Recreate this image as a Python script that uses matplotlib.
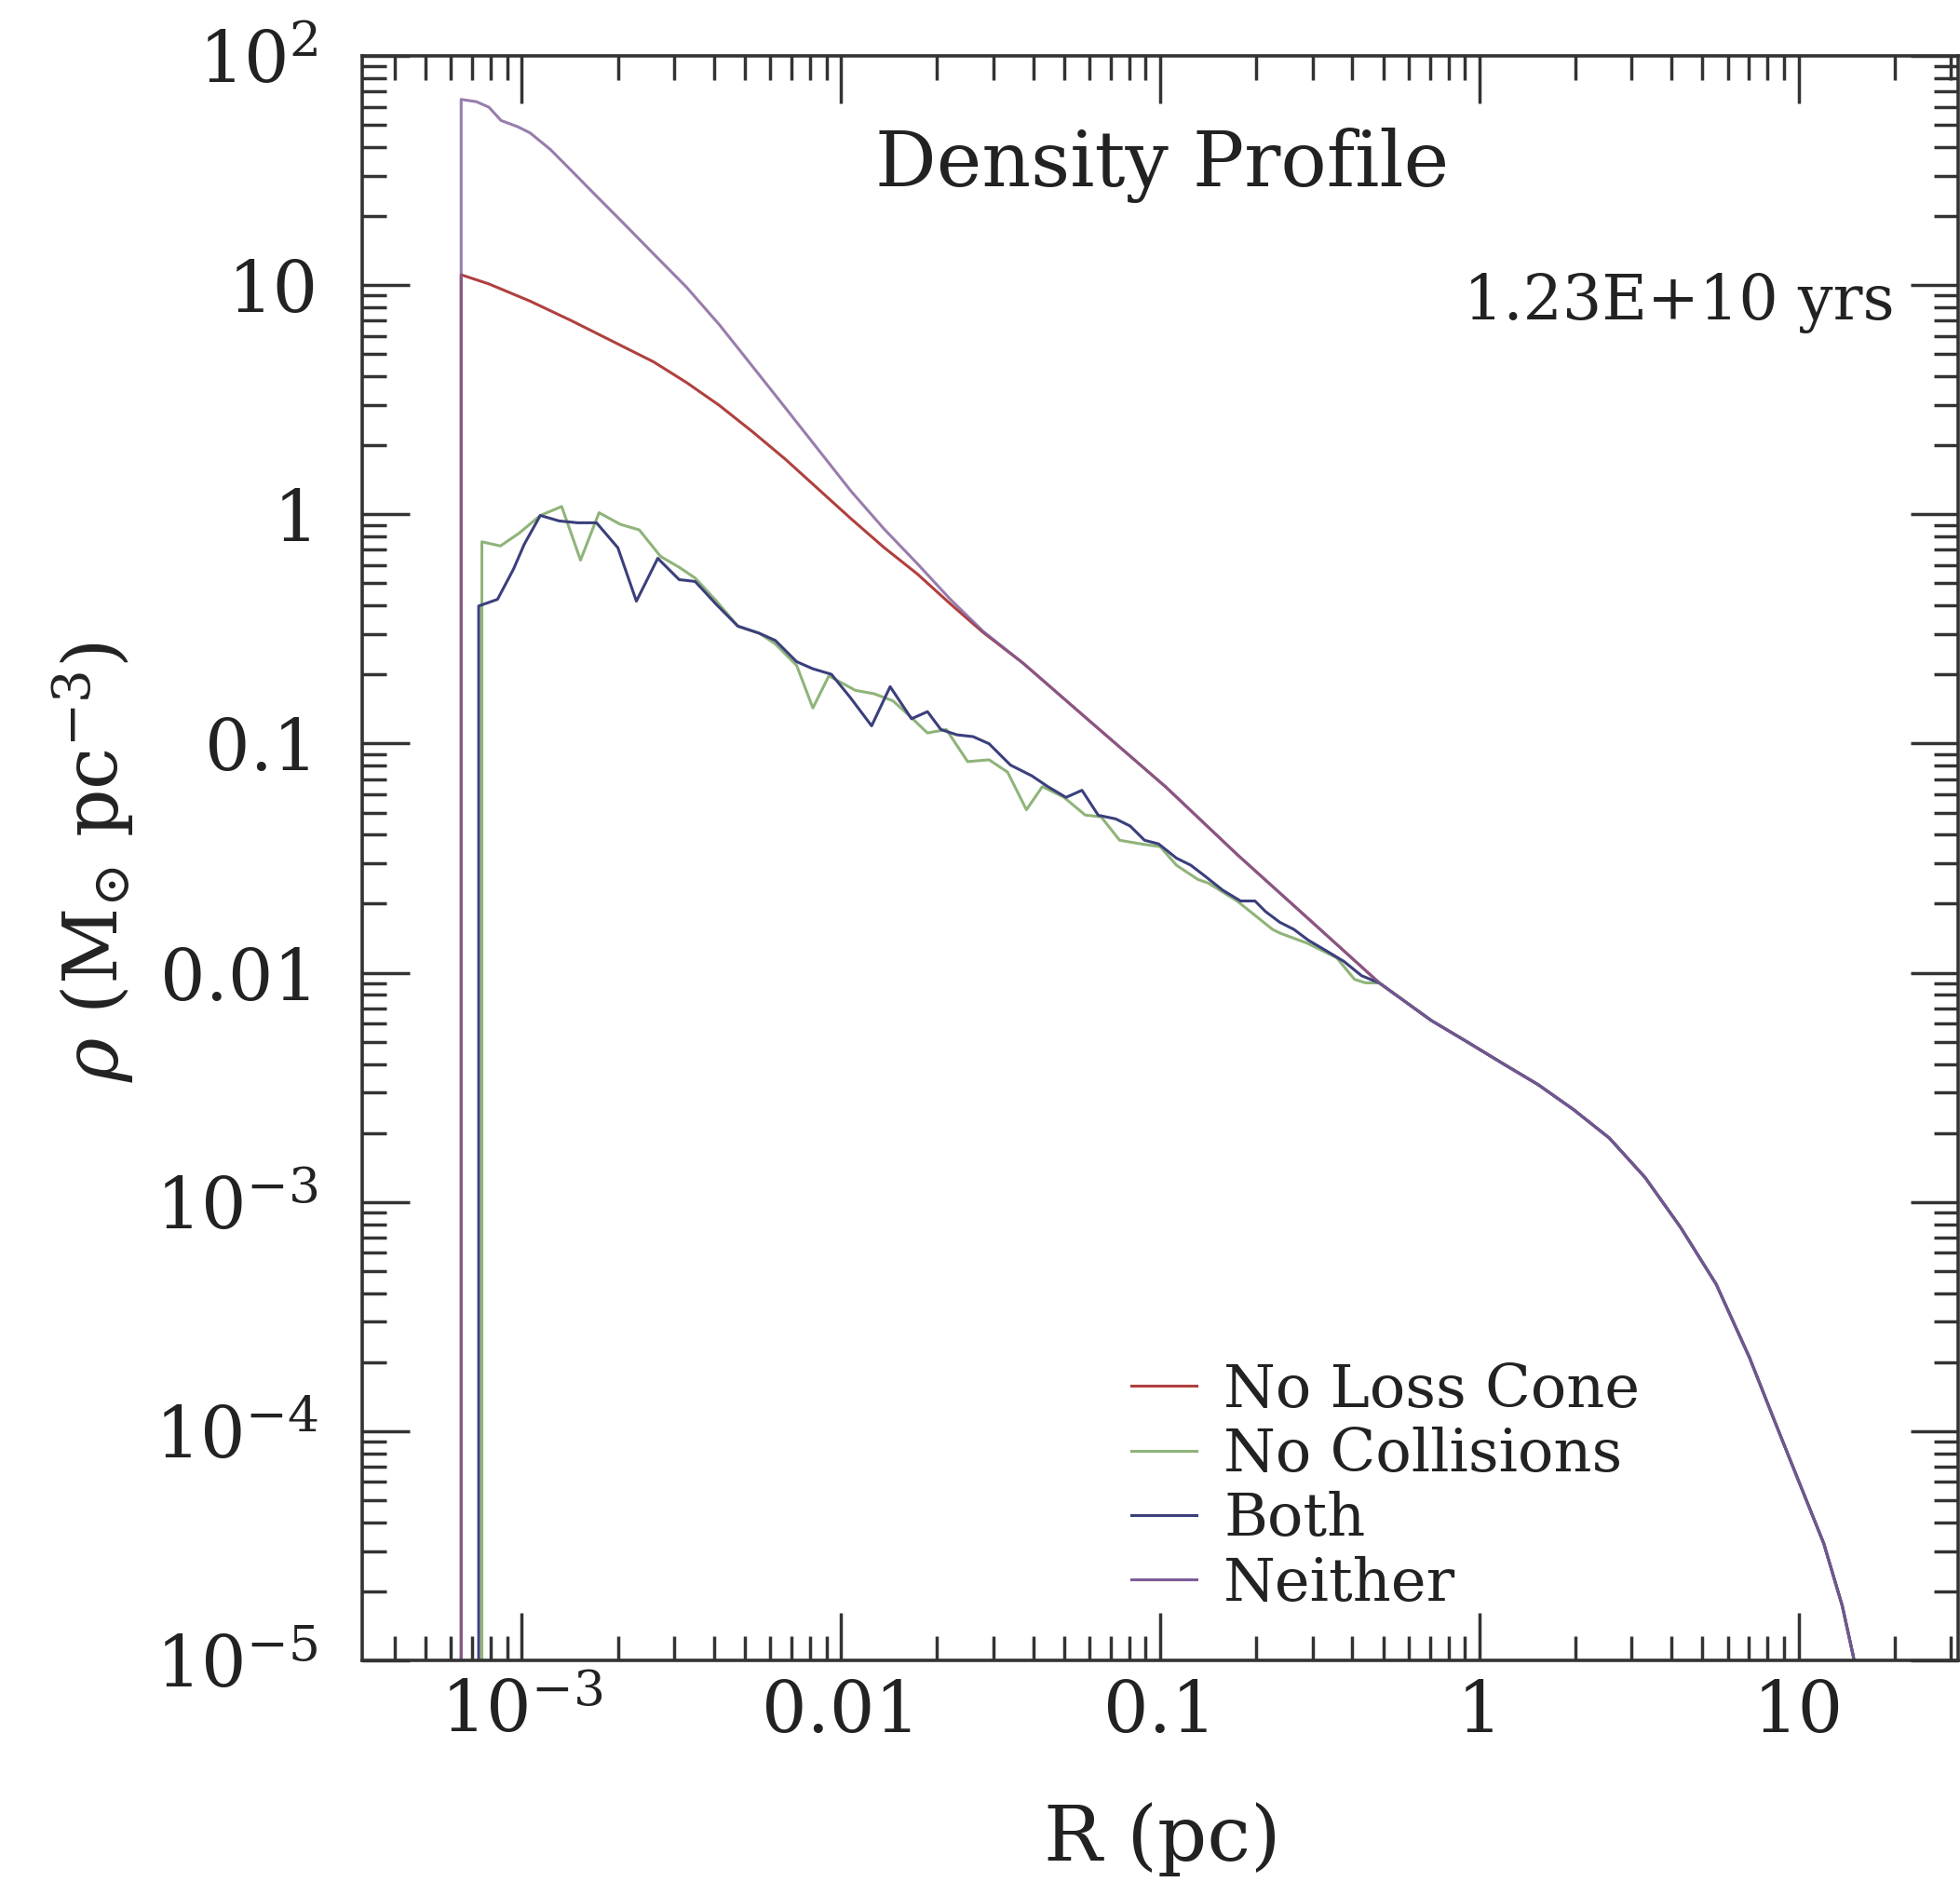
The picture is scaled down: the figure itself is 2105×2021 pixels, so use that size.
import numpy as np
import matplotlib
matplotlib.use("Agg")
import matplotlib.pyplot as plt
from matplotlib.ticker import FixedLocator, LogLocator, NullFormatter


# Settings
plt.rcParams["font.family"] = ["DejaVu Serif"]
plt.rcParams["mathtext.fontset"] = "dejavuserif"

# Data as log10(R / pc), log10(rho / Msun pc^-3)
# the first point of each curve sits below the axis to draw the vertical edge

# common outer part (all four runs agree there)
tail_logr = [-1.429, -1.206, -0.982, -0.759, -0.536, -0.313, -0.151, -0.039,
             0.072, 0.184, 0.295, 0.407, 0.519, 0.630, 0.742, 0.846, 0.923,
             1.001, 1.079, 1.137, 1.171, 1.200]
tail_logrho = [-0.65, -0.92, -1.19, -1.484, -1.764, -2.045, -2.208, -2.301,
               -2.395, -2.488, -2.597, -2.721, -2.893, -3.110, -3.359, -3.678,
               -3.949, -4.220, -4.490, -4.762, -4.978, -5.20]

neither_logr = [-3.19, -3.19, -3.142, -3.103, -3.065, -3.013, -2.974, -2.910,
                -2.845, -2.768, -2.690, -2.587, -2.484, -2.381, -2.277, -2.174,
                -2.071, -1.968, -1.865, -1.761, -1.658, -1.555]
neither_logrho = [-6.0, 1.81, 1.800, 1.776, 1.718, 1.691, 1.664, 1.591,
                  1.500, 1.391, 1.282, 1.136, 0.991, 0.827, 0.645, 0.464,
                  0.282, 0.100, -0.064, -0.215, -0.37, -0.51]

nolc_logr = [-3.19, -3.19, -3.103, -2.974, -2.845, -2.716, -2.587, -2.484,
             -2.381, -2.277, -2.174, -2.071, -1.968, -1.865, -1.761, -1.658,
             -1.555]
nolc_logrho = [-6.0, 1.045, 1.005, 0.93, 0.845, 0.755, 0.665, 0.575,
               0.475, 0.36, 0.24, 0.11, -0.02, -0.145, -0.26, -0.39,
               -0.515]

nocoll_logr = [-3.125, -3.125, -3.067, -3.009, -2.942, -2.875, -2.816, -2.758,
               -2.691, -2.632, -2.565, -2.507, -2.457, -2.390, -2.323, -2.256,
               -2.206, -2.139, -2.088, -2.038, -1.955, -1.896, -1.837, -1.787,
               -1.729, -1.670, -1.603, -1.536, -1.478, -1.419, -1.369, -1.302,
               -1.235, -1.185, -1.127, -1.060, -1.000, -0.949, -0.882, -0.849,
               -0.759, -0.648, -0.625, -0.536, -0.447, -0.391, -0.357]
nocoll_logrho = [-6.0, -0.12, -0.138, -0.083, -0.005, 0.034, -0.200, 0.007,
                 -0.044, -0.068, -0.184, -0.231, -0.278, -0.379, -0.488, -0.519,
                 -0.565, -0.659, -0.845, -0.705, -0.768, -0.783, -0.814, -0.877,
                 -0.954, -0.939, -1.079, -1.071, -1.125, -1.289, -1.188, -1.234,
                 -1.312, -1.320, -1.422, -1.438, -1.450, -1.531, -1.593, -1.609,
                 -1.687, -1.811, -1.827, -1.873, -1.935, -2.029, -2.044]

both_logr = [-3.135, -3.135, -3.076, -3.026, -2.992, -2.942, -2.883, -2.825,
             -2.766, -2.699, -2.641, -2.574, -2.507, -2.457, -2.390, -2.323,
             -2.256, -2.206, -2.139, -2.088, -2.030, -1.971, -1.904, -1.846,
             -1.779, -1.729, -1.687, -1.637, -1.586, -1.536, -1.469, -1.402,
             -1.352, -1.295, -1.245, -1.194, -1.139, -1.094, -1.049, -1.005,
             -0.949, -0.904, -0.860, -0.804, -0.748, -0.703, -0.670, -0.625,
             -0.581, -0.536, -0.480, -0.424, -0.369]
both_logrho = [-6.0, -0.40, -0.371, -0.239, -0.130, -0.005, -0.029, -0.037,
               -0.037, -0.146, -0.379, -0.192, -0.285, -0.293, -0.394, -0.488,
               -0.519, -0.550, -0.643, -0.674, -0.698, -0.799, -0.923, -0.752,
               -0.892, -0.861, -0.939, -0.962, -0.970, -1.001, -1.094, -1.141,
               -1.188, -1.235, -1.204, -1.313, -1.329, -1.360, -1.422, -1.438,
               -1.500, -1.531, -1.578, -1.640, -1.687, -1.687, -1.733, -1.780,
               -1.811, -1.858, -1.904, -1.951, -2.013]

# noisy runs join the smooth curve at about 0.5 pc
tail_join = 5

labels = ["No Loss Cone", "No Collisions", "Both", "Neither"]
colors = ["#b0403f", "#8fb47a", "#3b3f7c", "#7e5c98"]

ytick_vals = [1e-5, 1e-4, 1e-3, 1e-2, 1e-1, 1, 10, 100]
ytick_labels = [r"$10^{-5}$", r"$10^{-4}$", r"$10^{-3}$", "0.01", "0.1", "1", "10", r"$10^{2}$"]
xtick_vals = [1e-3, 1e-2, 1e-1, 1, 10]
xtick_labels = [r"$10^{-3}$", "0.01", "0.1", "1", "10"]


def curve(logr, logrho, start):
    lr = np.array(logr + tail_logr[start:])
    lp = np.array(logrho + tail_logrho[start:])
    return 10 ** lr, 10 ** lp


def main():
    fig = plt.figure(figsize=(21.05, 20.21), dpi=100)
    ax = fig.add_axes([389 / 2105, (2021 - 1783) / 2021,
                       (2103 - 389) / 2105, (1783 - 60) / 2021])

    series = {
        "Neither": curve(neither_logr, neither_logrho, 0),
        "No Loss Cone": curve(nolc_logr, nolc_logrho, 0),
        "No Collisions": curve(nocoll_logr, nocoll_logrho, tail_join),
        "Both": curve(both_logr, both_logrho, tail_join),
    }
    handles = {}
    # Neither drawn last, semi-transparent, so the shared tail looks mauve
    for name, a in [("No Loss Cone", 1.0), ("No Collisions", 1.0),
                    ("Both", 1.0), ("Neither", 0.8)]:
        r, rho = series[name]
        col = colors[labels.index(name)]
        (h,) = ax.plot(r, rho, color=col, lw=2.2, alpha=a, label=name)
        handles[name] = h

    ax.set_xscale("log")
    ax.set_yscale("log")
    ax.set_xlim(10 ** -3.5, 10 ** 1.5)
    ax.set_ylim(1e-5, 100)

    # ticks
    ax.xaxis.set_major_locator(FixedLocator(xtick_vals))
    ax.set_xticklabels(xtick_labels)
    ax.yaxis.set_major_locator(FixedLocator(ytick_vals))
    ax.set_yticklabels(ytick_labels)
    for axis in (ax.xaxis, ax.yaxis):
        axis.set_minor_locator(LogLocator(base=10, subs=np.arange(2, 10), numticks=100))
        axis.set_minor_formatter(NullFormatter())

    ax.tick_params(which="both", direction="in", top=True, right=True,
                   width=2.5, color="#333333")
    ax.tick_params(which="major", length=37)
    ax.tick_params(which="minor", length=19)
    ax.tick_params(axis="x", which="major", labelsize=55, pad=14, labelcolor="#222222")
    ax.tick_params(axis="y", which="major", labelsize=55, pad=34, labelcolor="#222222")
    for s in ax.spines.values():
        s.set_linewidth(2.6)
        s.set_color("#333333")

    # labels
    fig.text(1248 / 2105, 1 - 1975 / 2021, "R (pc)", fontsize=60,
             ha="center", va="center", color="#222222")
    fig.text(100 / 2105, 1 - 926 / 2021, r"$\rho$ (M$_{\odot}$ pc$^{-3}$)",
             fontsize=58, rotation=90, ha="center", va="center", color="#222222")

    ax.text(0.501, 0.932, "Density Profile", transform=ax.transAxes,
            fontsize=59, ha="center", va="center", color="#222222")
    ax.text(0.960, 0.846, "1.23E+10 yrs", transform=ax.transAxes,
            fontsize=48, ha="right", va="center", color="#222222")

    leg = ax.legend([handles[n] for n in labels], labels, loc="upper left",
                    bbox_to_anchor=(0.482, 0.186), frameon=False, fontsize=46,
                    handlelength=1.1, handletextpad=0.45, labelspacing=0.13,
                    borderpad=0, borderaxespad=0)
    for t in leg.get_texts():
        t.set_color("#222222")
    for h in leg.legend_handles:
        h.set_alpha(1.0)

    fig.savefig("out.png", dpi=100, facecolor="white")


if __name__ == "__main__":
    main()
